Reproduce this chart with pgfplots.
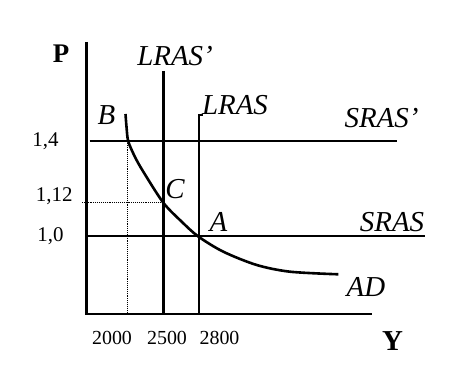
\documentclass[border=0pt]{standalone}
\usepackage{pgfplots}
\pgfplotsset{compat=1.18}
\usepackage{fontspec}
\setmainfont{Liberation Serif}
\begin{document}
\begin{tikzpicture}
\begin{axis}[
  scale only axis, width=456bp, height=371bp,
  xmin=0, xmax=456, ymin=0, ymax=371,
  hide axis, clip=false,
  every node/.style={inner sep=0pt, outer sep=0pt},
]
% frame the whole picture area (bounding box)
\path (axis cs:0,0) rectangle (axis cs:456,371);
% axes
\addplot[black, line width=2.8bp] coordinates {(86.5,329) (86.5,57) (372,57)};
% SRAS' and SRAS
\addplot[black, line width=2.6bp] coordinates {(89.5,230) (397,230)};
\addplot[black, line width=2.6bp] coordinates {(86.5,135) (425,135)};
% LRAS' and LRAS
\addplot[black, line width=2.6bp] coordinates {(163.5,300) (163.5,57)};
\addplot[black, line width=2.6bp] coordinates {(202.5,256) (199,256) (199,57)};
% dotted guides
\addplot[black, line width=0.9bp, densely dotted] coordinates {(127.5,230) (127.5,57)};
\addplot[black, line width=0.9bp, densely dotted] coordinates {(82,169) (163.5,169)};
% AD curve
\addplot[black, line width=2.6bp, smooth, tension=0.5] coordinates {
 (125.5,257) (126.6,243) (128.3,229.5) (135,214) (143.3,199.3) (163.3,168.3)
 (181.7,149.3) (198.3,134.5) (223.3,119.3) (256.7,106) (290,99.3) (338.3,96.7)};
% labels
\node[anchor=base] at (axis cs:175,305) {\fontsize{29}{30}\selectfont\itshape LRAS’};
\node[anchor=base] at (axis cs:235,256) {\fontsize{29}{30}\selectfont\itshape LRAS};
\node[anchor=base] at (axis cs:381.5,243) {\fontsize{29}{30}\selectfont\itshape SRAS’};
\node[anchor=base] at (axis cs:392,139) {\fontsize{29}{30}\selectfont\itshape SRAS};
\node[anchor=base] at (axis cs:218.5,139) {\fontsize{29}{30}\selectfont\itshape A};
\node[anchor=base] at (axis cs:175,172) {\fontsize{29}{30}\selectfont\itshape C};
\node[anchor=base] at (axis cs:106.5,246) {\fontsize{29}{30}\selectfont\itshape B};
\node[anchor=base] at (axis cs:366,74) {\fontsize{29}{30}\selectfont\itshape AD};
\node[anchor=base] at (axis cs:61,308) {\fontsize{27}{28}\selectfont\bfseries P};
\node[anchor=base] at (axis cs:392.5,21) {\fontsize{29}{30}\selectfont\bfseries Y};
% tick labels
\node[anchor=base] at (axis cs:112,27) {\fontsize{20}{22}\selectfont 2000};
\node[anchor=base] at (axis cs:167,27) {\fontsize{20}{22}\selectfont 2500};
\node[anchor=base] at (axis cs:219.5,27) {\fontsize{20}{22}\selectfont 2800};
\node[anchor=base east] at (axis cs:62,224) {\fontsize{21}{22}\selectfont 1,4};
\node[anchor=base east] at (axis cs:76,169) {\fontsize{21}{22}\selectfont 1,12};
\node[anchor=base east] at (axis cs:67,129) {\fontsize{21}{22}\selectfont 1,0};
\end{axis}
\end{tikzpicture}
\end{document}
